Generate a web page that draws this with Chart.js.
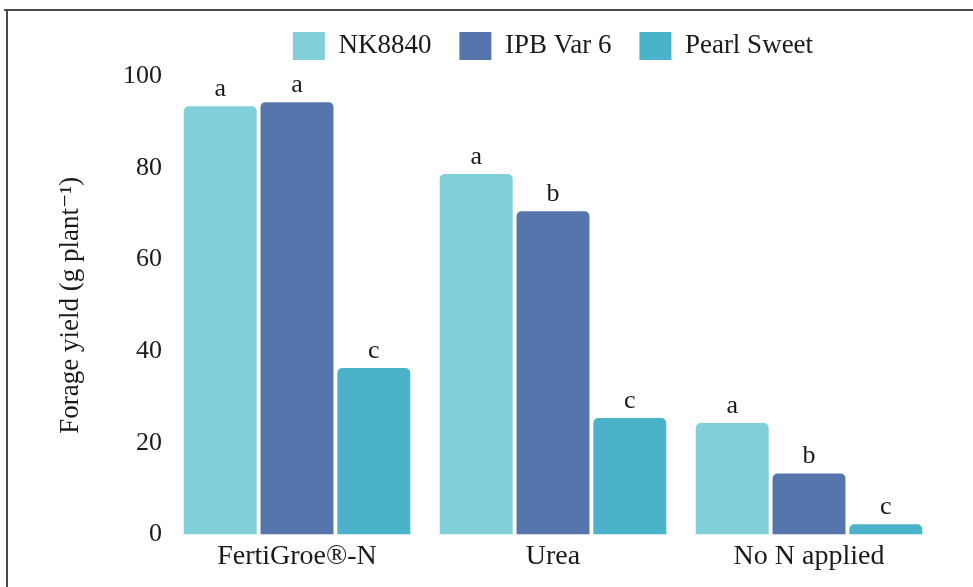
<!DOCTYPE html>
<html>
<head>
<meta charset="utf-8">
<script src="https://cdn.jsdelivr.net/npm/chart.js@4"></script>
<style>
  html, body { margin: 0; padding: 0; background: #fff; }
  #wrap { width: 973px; height: 587px; }
</style>
</head>
<body>
<div id="wrap"><canvas id="yieldChart" width="973" height="587"></canvas></div>
<script>
// chart data
const categories = ["FertiGroe\u00AE-N", "Urea", "No N applied"];
const nk8840 = [93.4, 78.6, 24.3];
const ipbVar6 = [94.3, 70.5, 13.3];
const pearlSweet = [36.3, 25.4, 2.2];
const lettersNK = ["a", "a", "a"];
const lettersIPB = ["a", "b", "b"];
const lettersPearl = ["c", "c", "c"];
const yTicks = [0, 20, 40, 60, 80, 100];

const serif = "'Liberation Serif', 'DejaVu Serif', serif";
const textColor = "#1a1a1a";

// frame around the figure (top and left edges only are visible)
const framePlugin = {
  id: "frame",
  afterInit(chart) {
    // leave a little more room under the legend
    const lg = chart.legend;
    if (lg) {
      const fit = lg.fit;
      lg.fit = function () {
        fit.call(this);
        this.height += 6;
      };
    }
  },
  beforeDraw(chart) {
    const ctx = chart.ctx;
    ctx.save();
    ctx.strokeStyle = "#4a4a4a";
    ctx.lineWidth = 2;
    ctx.beginPath();
    ctx.moveTo(4, 10);
    ctx.lineTo(chart.width, 10);
    ctx.moveTo(7, 9);
    ctx.lineTo(7, chart.height);
    ctx.stroke();
    ctx.restore();
  }
};

// significance letters above each bar
const letterPlugin = {
  id: "letters",
  afterDatasetsDraw(chart) {
    const ctx = chart.ctx;
    ctx.save();
    ctx.font = "26px " + serif;
    ctx.fillStyle = textColor;
    ctx.textAlign = "center";
    ctx.textBaseline = "alphabetic";
    chart.data.datasets.forEach((ds, i) => {
      const meta = chart.getDatasetMeta(i);
      meta.data.forEach((bar, j) => {
        ctx.fillText(ds.letters[j], bar.x, bar.y - 10);
      });
    });
    ctx.restore();
  }
};

const ctx = document.getElementById("yieldChart");
new Chart(ctx, {
  type: "bar",
  data: {
    labels: categories,
    datasets: [
      { label: "NK8840", data: nk8840, letters: lettersNK, backgroundColor: "#80cfd9" },
      { label: "IPB Var 6", data: ipbVar6, letters: lettersIPB, backgroundColor: "#5575ac" },
      { label: "Pearl Sweet", data: pearlSweet, letters: lettersPearl, backgroundColor: "#4ab3ca" }
    ]
  },
  options: {
    responsive: false,
    animation: false,
    devicePixelRatio: 1,
    layout: { padding: { left: 20, right: 36, top: 4, bottom: 9 } },
    datasets: {
      bar: {
        categoryPercentage: 0.9,
        barPercentage: 0.95,
        borderWidth: 0,
        borderRadius: 5
      }
    },
    plugins: {
      legend: {
        position: "top",
        fullSize: false,
        labels: {
          boxWidth: 32,
          boxHeight: 28,
          padding: 28,
          color: textColor,
          font: { family: serif, size: 27 }
        }
      },
      tooltip: { enabled: false }
    },
    scales: {
      x: {
        grid: { display: false, drawTicks: false },
        border: { display: false },
        ticks: { color: textColor, padding: 5, font: { family: serif, size: 28 } }
      },
      y: {
        min: 0,
        max: 100,
        afterBuildTicks(scale) {
          scale.ticks = yTicks.map(v => ({ value: v }));
        },
        afterFit(scale) {
          scale.width = 149;
        },
        grid: { display: false, drawTicks: false },
        border: { display: false },
        ticks: { color: textColor, padding: 7, font: { family: serif, size: 26 } },
        title: {
          display: true,
          text: "Forage yield (g plant\u207B\u00B9)",
          color: textColor,
          padding: { top: 35, bottom: 0 },
          font: { family: serif, size: 27 }
        }
      }
    }
  },
  plugins: [framePlugin, letterPlugin]
});
</script>
</body>
</html>
